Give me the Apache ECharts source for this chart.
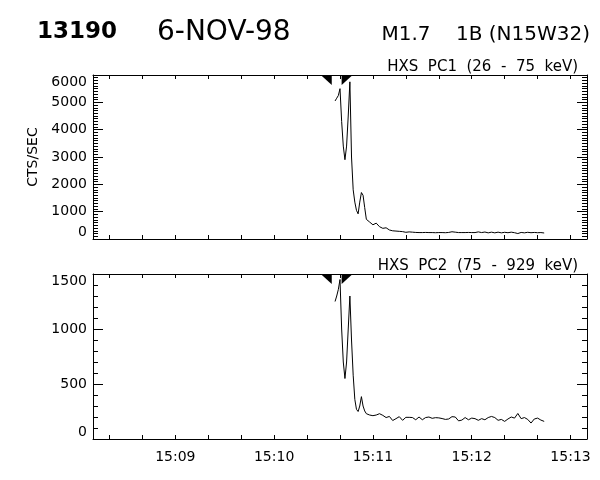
<!DOCTYPE html>
<html><head><meta charset="utf-8">
<script src="https://cdn.jsdelivr.net/npm/echarts@6/dist/echarts.min.js"></script>
<style>html,body{margin:0;padding:0;background:#fff}#c{width:600px;height:480px}</style>
</head><body><div id="c"></div>
<script>
// ---- data ----
const timeLabels = ['15:09', '15:10', '15:11', '15:12', '15:13'];
const viewStart = '15:08:10';
const viewEnd = '15:13:10';
// sample times, seconds after 15:10:00
const secAfter1510 = [37,38,39,40,41,42,43,44,45,46,47,48,49,50,51,52,53,54,55,56,
  58,60,62,64,66,68,70,72,74,76,78,80,82,84,86,88,90,92,94,96,98,100,102,104,106,108,110,
  112,114,116,118,120,122,124,126,128,130,132,134,136,138,140,142,144,146,148,150,152,154,
  156,158,160,162,164];
// HXS PC1 (26 - 75 keV) counts/s
const pc1 = [5050,5150,5250,5500,4300,3400,2900,3400,4500,5750,3000,1800,1350,1050,920,1350,1700,1600,1150,720,
  620,520,580,450,390,410,330,300,290,280,270,245,260,250,240,235,235,240,235,235,230,235,235,230,240,265,250,
  235,235,235,240,235,235,260,235,255,225,250,225,250,225,245,230,250,230,200,240,225,245,
  230,240,230,235,220];
// HXS PC2 (75 - 929 keV) counts/s
const pc2 = [1250,1300,1360,1450,1000,700,550,700,1000,1300,900,580,360,270,250,300,385,300,255,230,
  218,212,218,230,215,195,205,168,185,203,170,197,197,195,175,200,175,195,200,188,194,192,186,178,182,203,200,
  165,172,195,175,190,185,170,185,175,195,205,195,170,178,160,182,200,190,232,185,195,178,
  145,182,190,172,160];
// flare interval markers (seconds after 15:10:00)
const markerSec = [35, 41];
const pc1Max = 6000, pc1Step = 1000;
const pc2Max = 1500, pc2Step = 500;

// ---- helpers ----
const FONT = 'DejaVu Sans';
function hmsToSec(s) { const p = s.split(':').map(Number); return (p[0] - 15) * 3600 + p[1] * 60 + (p[2] || 0); }
const xMin = hmsToSec(viewStart), xMax = hmsToSec(viewEnd);
const labelSecs = timeLabels.map(hmsToSec);
const tickSecs = [];
for (let s = Math.ceil(xMin / 20) * 20; s <= xMax; s += 20) tickSecs.push(s);
const xs = secAfter1510.map(s => 600 + s);
function fmt(v) { const m = Math.floor(v / 60); return '15:' + String(m).padStart(2, '0'); }

function xAx(gi, pos, showLabel) {
  return {
    type: 'value', gridIndex: gi, position: pos, min: xMin, max: xMax,
    axisLine: { show: true, onZero: false, lineStyle: { color: '#000', width: 1 } },
    axisTick: { show: true, inside: true, length: 4, customValues: tickSecs, lineStyle: { color: '#000', width: 1 } },
    axisLabel: { show: showLabel, customValues: labelSecs, formatter: fmt, color: '#000', fontFamily: FONT, fontSize: 14, margin: 11 },
    splitLine: { show: false }
  };
}
function yAx(gi, pos, showLabel, max, step, minorSplit, name) {
  return {
    type: 'value', gridIndex: gi, position: pos, min: 0, max: max, interval: step,
    name: name || '', nameLocation: 'middle', nameGap: 50, nameRotate: 90,
    nameTextStyle: { color: '#000', fontFamily: FONT, fontSize: 14 },
    axisLine: { show: true, onZero: false, lineStyle: { color: '#000', width: 1 } },
    axisTick: { show: true, inside: true, length: 10, lineStyle: { color: '#000', width: 1 } },
    minorTick: { show: true, splitNumber: minorSplit, length: 5, lineStyle: { color: '#000', width: 1 } },
    axisLabel: { show: showLabel, color: '#000', fontFamily: FONT, fontSize: 14, margin: 6,
      formatter: v => String(v),
      verticalAlignMinLabel: 'bottom', verticalAlignMaxLabel: 'top' },
    splitLine: { show: false }, minorSplitLine: { show: false }
  };
}
const tri1 = 'path://M0,0L10,0L10,10Z';
const tri2 = 'path://M0,0L10,0L0,10Z';
function markers(yTop) {
  return {
    silent: true, label: { show: false }, animation: false,
    data: markerSec.map((s, i) => ({
      coord: [600 + s, yTop], symbol: i === 0 ? tri1 : tri2, symbolSize: [11, 10],
      symbolOffset: i === 0 ? ['-50%', '50%'] : ['50%', '50%'], itemStyle: { color: '#000' }
    }))
  };
}

const chart = echarts.init(document.getElementById('c'), null, { renderer: 'canvas' });
chart.setOption({
  backgroundColor: '#fff',
  animation: false,
  title: [
    { text: '13190', left: 37, top: 21, padding: 0, textStyle: { fontFamily: FONT, fontSize: 23, fontWeight: 'bold', color: '#000' } },
    { text: '6-NOV-98', left: 157, top: 19, padding: 0, textStyle: { fontFamily: FONT, fontSize: 28, fontWeight: 'normal', color: '#000' } },
    { text: 'M1.7    1B (N15W32)', right: 10, top: 25, padding: 0, textStyle: { fontFamily: FONT, fontSize: 20, fontWeight: 'normal', color: '#000' } },
    { text: 'HXS  PC1  (26  -  75  keV)', right: 22, top: 60, padding: 0, textStyle: { fontFamily: FONT, fontSize: 15, fontWeight: 'normal', color: '#000' } },
    { text: 'HXS  PC2  (75  -  929  keV)', right: 22, top: 259, padding: 0, textStyle: { fontFamily: FONT, fontSize: 15, fontWeight: 'normal', color: '#000' } }
  ],
  grid: [
    { left: 93, top: 75, width: 494, height: 164 },
    { left: 93, top: 274, width: 494, height: 165 }
  ],
  xAxis: [xAx(0, 'bottom', false), xAx(0, 'top', false), xAx(1, 'bottom', true), xAx(1, 'top', false)],
  yAxis: [
    yAx(0, 'left', true, pc1Max, pc1Step, 10, 'CTS/SEC'), yAx(0, 'right', false, pc1Max, pc1Step, 10),
    yAx(1, 'left', true, pc2Max, pc2Step, 5), yAx(1, 'right', false, pc2Max, pc2Step, 5)
  ],
  series: [
    { type: 'line', xAxisIndex: 0, yAxisIndex: 0, data: xs.map((x, i) => [x, pc1[i]]), showSymbol: false,
      lineStyle: { color: '#000', width: 1 }, itemStyle: { color: '#000' }, markPoint: markers(pc1Max) },
    { type: 'line', xAxisIndex: 2, yAxisIndex: 2, data: xs.map((x, i) => [x, pc2[i]]), showSymbol: false,
      lineStyle: { color: '#000', width: 1 }, itemStyle: { color: '#000' }, markPoint: markers(pc2Max) }
  ]
});
</script></body></html>
